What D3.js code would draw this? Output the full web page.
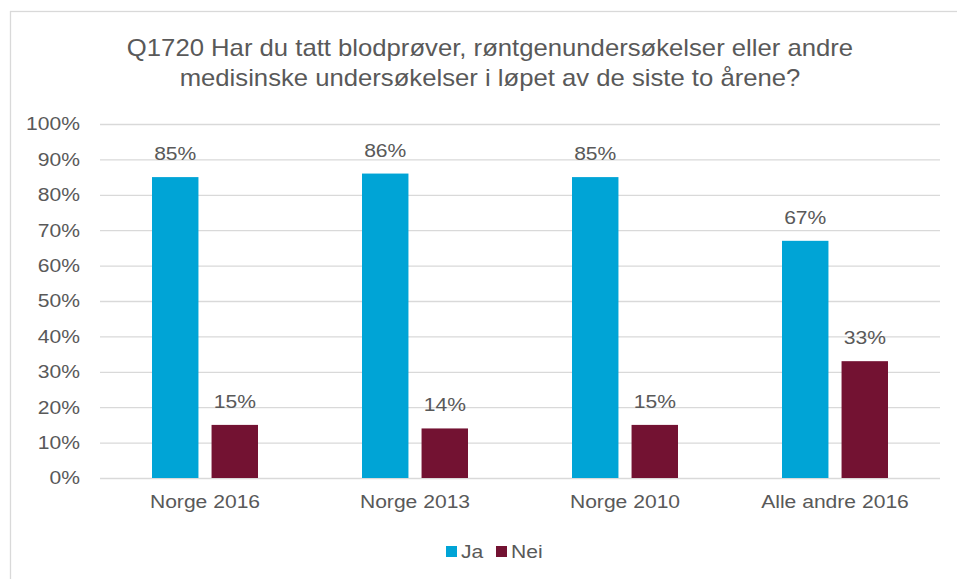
<!DOCTYPE html>
<html lang="no">
  <head>
    <meta charset="utf-8">
    <title>Q1720</title>
    <script src="https://cdn.jsdelivr.net/npm/d3@7"></script>
    <style>
      body { margin: 0; background: #fff; }
      svg { font-family: "Liberation Sans", Arial, sans-serif; }
      .grid line { stroke: #d9d9d9; stroke-width: 1.3px; }
      .grid path { display: none; }
      .axis text, .lbl, .title, .legend text { fill: #595959; }
    </style>
  </head>
  <body>
    <div id="chart"></div>
    <script>
      // data
      var categories = ["Norge 2016", "Norge 2013", "Norge 2010", "Alle andre 2016"];
      var series = ["Ja", "Nei"];
      var ja = [85, 86, 85, 67];
      var nei = [15, 14, 15, 33];
      var yTicks = [0, 10, 20, 30, 40, 50, 60, 70, 80, 90, 100];
      var titleLines = ["Q1720 Har du tatt blodprøver, røntgenundersøkelser eller andre",
                        "medisinske undersøkelser i løpet av de siste to årene?"];
      var colors = ["#00a4d6", "#731232"];

      var W = 957, H = 579;
      var margin = {top: 124, right: 17, bottom: 101, left: 100};
      var width = W - margin.left - margin.right;
      var height = H - margin.top - margin.bottom;
      var sx = 1.14;   // the source text is a little wider than Liberation Sans

      function place(px, py, k) {
        return "translate(" + px + "," + py + ") scale(" + (k || sx) + ",1)";
      }

      var rows = categories.map(function(c, i) { return {cat: c, vals: [ja[i], nei[i]]}; });

      var svg = d3.select("#chart").append("svg")
          .attr("width", W)
          .attr("height", H);

      // outer border of chart area
      svg.append("rect")
          .attr("x", 10.5).attr("y", 11.5)
          .attr("width", W + 10).attr("height", H + 10)
          .attr("fill", "none")
          .attr("stroke", "#d9d9d9")
          .attr("stroke-width", 1.3);

      svg.append("g").selectAll("text")
          .data(titleLines)
          .enter().append("text")
            .attr("class", "title")
            .attr("text-anchor", "middle")
            .attr("font-size", "24px")
            .attr("transform", function(d, i) { return place(490, 56 + i * 30, 1.07); })
            .text(function(d) { return d; });

      var g = svg.append("g")
          .attr("transform", "translate(" + margin.left + "," + margin.top + ")");

      var x = d3.scaleBand()
          .domain(categories)
          .range([0, width]);

      var x1 = d3.scaleBand()
          .domain(series)
          .range([52, 158])
          .paddingInner(0.22);

      var y = d3.scaleLinear()
          .domain([0, 100])
          .range([height, 0]);

      // gridlines
      g.append("g")
          .attr("class", "grid")
        .call(d3.axisLeft(y).tickValues(yTicks).tickSize(-width).tickFormat(""));

      // y labels
      g.append("g")
          .attr("class", "axis")
          .selectAll("text")
          .data(yTicks)
          .enter().append("text")
            .attr("transform", function(d) { return place(-20, y(d)); })
            .attr("dy", "0.35em")
            .attr("text-anchor", "end")
            .attr("font-size", "18.5px")
            .text(function(d) { return d + "%"; });

      // x labels
      g.append("g")
          .attr("class", "axis")
          .selectAll("text")
          .data(categories)
          .enter().append("text")
            .attr("transform", function(d) { return place(x(d) + x.bandwidth() / 2, height + 30); })
            .attr("text-anchor", "middle")
            .attr("font-size", "18.5px")
            .text(function(d) { return d; });

      var groups = g.selectAll(".grp")
          .data(rows)
          .enter().append("g")
            .attr("class", "grp")
            .attr("transform", function(d) { return "translate(" + x(d.cat) + ",0)"; });

      groups.selectAll("rect")
          .data(function(d) { return d.vals.map(function(v, i) { return {s: series[i], v: v, i: i}; }); })
          .enter().append("rect")
            .attr("x", function(d) { return x1(d.s); })
            .attr("y", function(d) { return y(d.v); })
            .attr("width", x1.bandwidth())
            .attr("height", function(d) { return height - y(d.v); })
            .attr("fill", function(d) { return colors[d.i]; });

      groups.selectAll(".lbl")
          .data(function(d) { return d.vals.map(function(v, i) { return {s: series[i], v: v}; }); })
          .enter().append("text")
            .attr("class", "lbl")
            .attr("transform", function(d) { return place(x1(d.s) + x1.bandwidth() / 2, y(d.v) - 17); })
            .attr("text-anchor", "middle")
            .attr("font-size", "18.5px")
            .text(function(d) { return d.v + "%"; });

      // legend
      var legend = svg.append("g").attr("class", "legend");
      var legX = [446, 496];
      series.forEach(function(s, i) {
        legend.append("rect")
            .attr("x", legX[i]).attr("y", 546)
            .attr("width", 11).attr("height", 11)
            .attr("fill", colors[i]);
        legend.append("text")
            .attr("transform", place(legX[i] + 15, 558))
            .attr("font-size", "18.5px")
            .text(s);
      });
    </script>
  </body>
</html>
